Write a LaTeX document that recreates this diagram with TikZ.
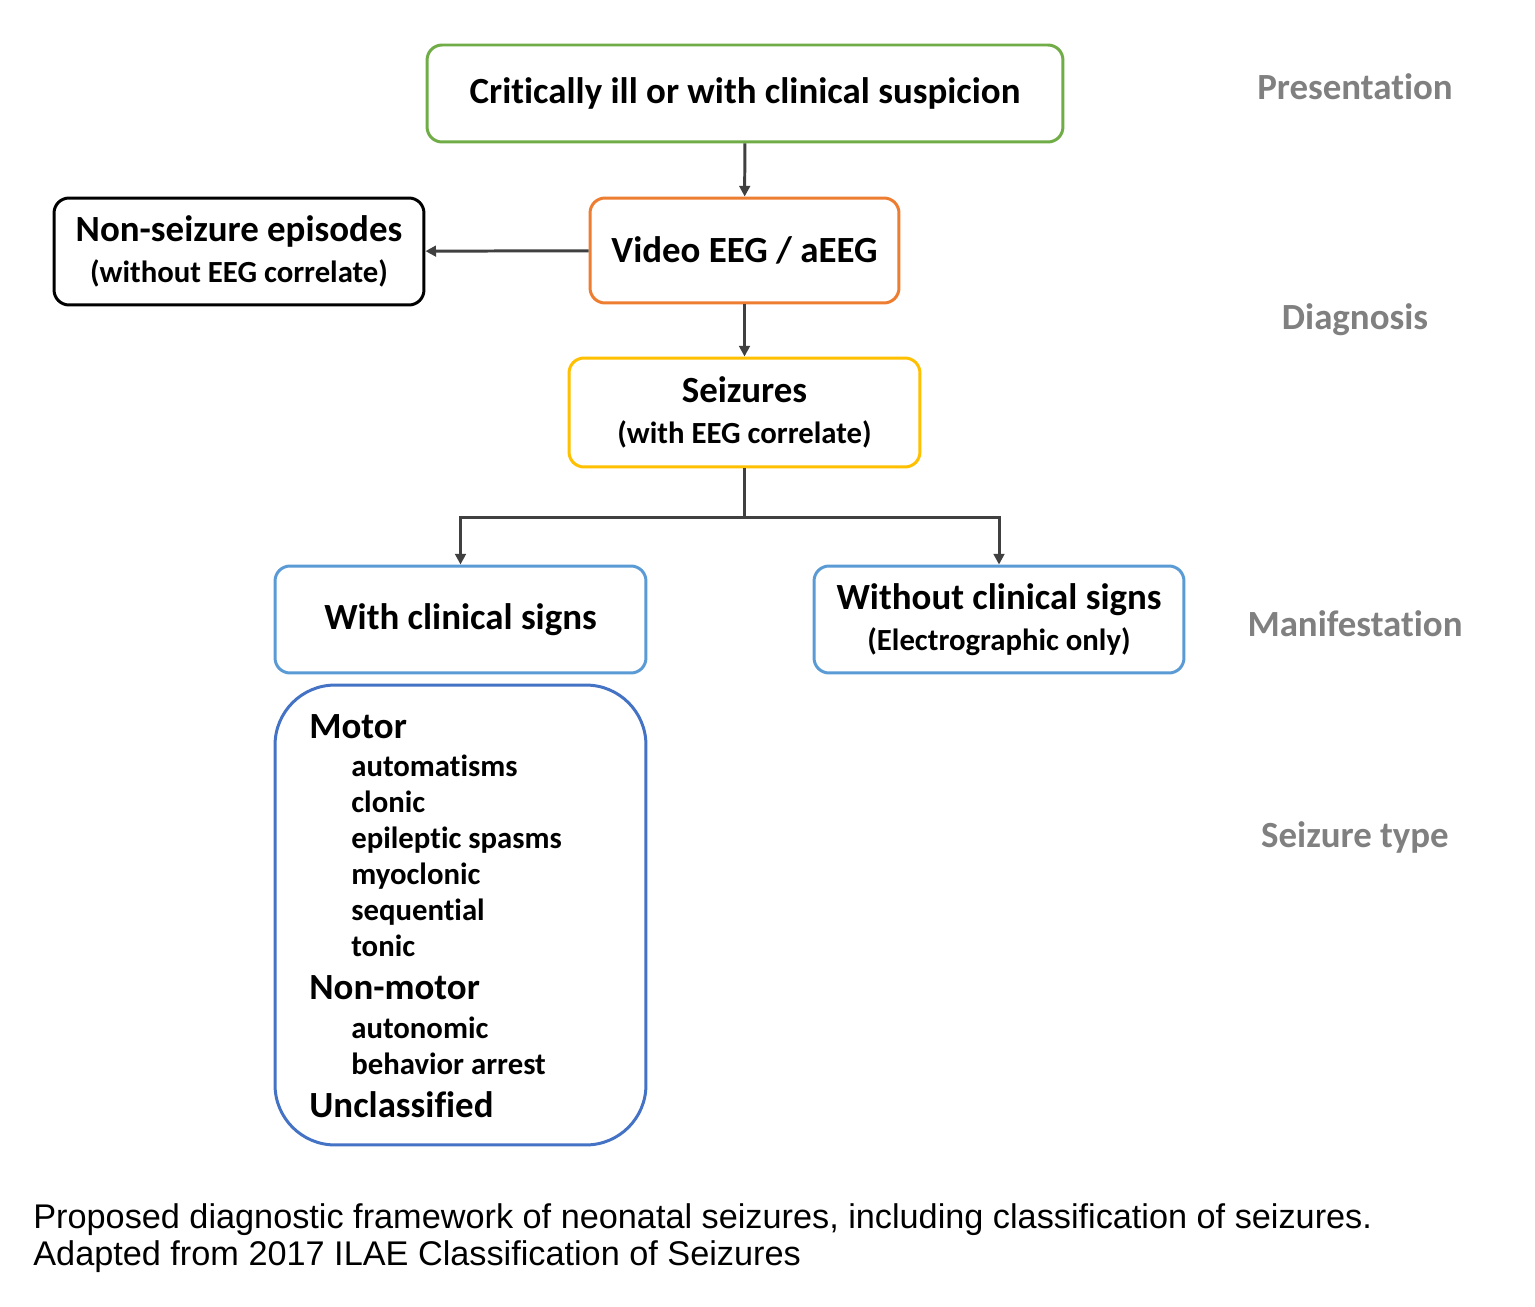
\documentclass[tikz,border=0pt]{standalone}
\usepackage{fontspec}
\setmainfont{Carlito}[Ligatures=NoCommon]
\newfontfamily\capfont{Liberation Sans}
\usetikzlibrary{arrows.meta}

\definecolor{boxgreen}{RGB}{112,173,71}
\definecolor{boxorange}{RGB}{237,125,49}
\definecolor{boxyellow}{RGB}{255,192,0}
\definecolor{boxblue}{RGB}{91,155,213}
\definecolor{boxdblue}{RGB}{68,114,196}
\definecolor{lblgray}{RGB}{128,128,128}
\definecolor{arrgray}{RGB}{64,64,64}
\newcommand\subsize{\fontsize{17.5}{21}\selectfont}

\begin{document}
\begin{tikzpicture}[x=0.02cm, y=-0.02cm,
    box/.style={draw, line width=1.7pt, rounded corners=0.3cm, align=center, font=\bfseries\fontsize{21}{25}\selectfont, inner sep=0pt},
    sub/.style={font=\bfseries\subsize},
    lbl/.style={text=lblgray, font=\bfseries\fontsize{21}{25}\selectfont},
    conn/.style={draw=arrgray, line width=1.7pt, -{Triangle[length=6pt,width=6pt]}}]
    % page size
    \fill[white] (0,0) rectangle (1535,1307);

    \node (pres) at (745,93.5) [box, draw=boxgreen, minimum width=12.72cm, minimum height=1.94cm] {Critically ill or with clinical suspicion};
    \node (veeg) at (744.5,250.5) [box, draw=boxorange, minimum width=6.18cm, minimum height=2.1cm] {Video EEG / aEEG};
    \node (nons) at (239,251.5) [box, draw=black, minimum width=7.4cm, minimum height=2.14cm] {Non-seizure episodes\\[-2pt]{\subsize (without EEG correlate)}};
    \node (seiz) at (744.5,412.5) [box, draw=boxyellow, minimum width=7.02cm, minimum height=2.18cm] {Seizures\\[-2pt]{\subsize (with EEG correlate)}};
    \node (with) at (460.5,619.5) [box, draw=boxblue, minimum width=7.42cm, minimum height=2.14cm] {With clinical signs};
    \node (wout) at (999,619.5) [box, draw=boxblue, minimum width=7.4cm, minimum height=2.14cm] {Without clinical signs\\[-2pt]{\subsize (Electrographic only)}};

    % seizure types
    \node (type) at (460.5,915) [draw=boxdblue, line width=1.7pt, rounded corners=1.2cm, minimum width=7.42cm, minimum height=9.2cm] {};
    \foreach \txt/\yy [count=\i] in {Motor/738, Non-motor/999, Unclassified/1117}
        \node (head\i) at (309,\yy) [anchor=base west, font=\bfseries\fontsize{21}{25}\selectfont, inner sep=0pt] {\txt};
    \foreach \txt/\yy [count=\i] in {automatisms/776, clonic/812, epileptic spasms/848, myoclonic/884, sequential/920, tonic/956, autonomic/1038, behavior arrest/1074}
        \node (item\i) at (351,\yy) [anchor=base west, sub, inner sep=0pt] {\txt};

    % levels
    \node (l1) at (1355,87) [lbl] {Presentation};
    \node (l2) at (1355,320) [lbl] {Diagnosis};
    \node (l3) at (1355,624) [lbl] {Manifestation};
    \node (l4) at (1355,837) [lbl] {Seizure type};

    \draw [conn] (pres) -- (veeg);
    \draw [conn] (veeg) -- (nons);
    \draw [conn] (veeg) -- (seiz);
    \draw [conn] (seiz.south) -- ++(0,49) -| (with.north);
    \draw [conn] (seiz.south) -- ++(0,49) -| (wout.north);

    \node (cap1) at (33,1228) [anchor=base west, inner sep=0pt, font=\capfont\fontsize{19.5}{23}\selectfont] {Proposed diagnostic framework of neonatal seizures, including classification of seizures.};
    \node (cap2) at (33,1265) [anchor=base west, inner sep=0pt, font=\capfont\fontsize{19.5}{23}\selectfont] {Adapted from 2017 ILAE Classification of Seizures};
\end{tikzpicture}
\end{document}
